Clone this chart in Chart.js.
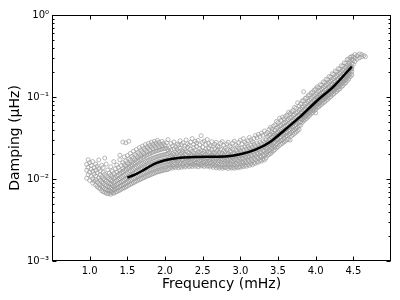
<!DOCTYPE html>
<html lang="en">
<head>
<meta charset="UTF-8">
<title>Damping vs Frequency</title>
<style>
  html, body { margin: 0; padding: 0; background: #fff; }
  #chart { display: block; }
</style>
</head>
<body>
<canvas id="chart" width="400" height="300"></canvas>
<script src="https://cdn.jsdelivr.net/npm/chart.js"></script>
<script>
// axis ticks
const xTicks = [1.0, 1.5, 2.0, 2.5, 3.0, 3.5, 4.0, 4.5];
const yTicks = [0.001, 0.01, 0.1, 1];
const yTickLabels = ['10\u207B\u00B3', '10\u207B\u00B2', '10\u207B\u00B9', '10\u2070'];

// fitted curve
const lineFreq = [1.5, 1.6, 1.7, 1.8, 1.9, 2.0, 2.1, 2.2, 2.4, 2.6, 2.8, 3.0, 3.2, 3.4, 3.6, 3.8, 4.0, 4.25, 4.48];
const lineDamp = [0.0104, 0.0113, 0.0126, 0.0143, 0.0158, 0.0169, 0.0177, 0.0182, 0.0186, 0.0187, 0.0188, 0.0200, 0.0228, 0.0285, 0.0405, 0.058, 0.087, 0.138, 0.235];

// measured modes, each row: [frequency, damping values...]
const lowBand = [
  [0.96, 0.0102, 0.0128, 0.0151],
  [0.98, 0.0113, 0.0139, 0.0172],
  [1.00, 0.0096, 0.0121, 0.0158],
  [1.02, 0.0108, 0.0132, 0.0146],
  [1.04, 0.0089, 0.0101, 0.0124, 0.0163],
  [1.06, 0.0094, 0.0115, 0.0137],
  [1.08, 0.0084, 0.0098, 0.0109, 0.0128, 0.0152],
  [1.10, 0.0081, 0.0092, 0.0119, 0.0143],
  [1.12, 0.0078, 0.0088, 0.0103, 0.0134, 0.0171],
  [1.14, 0.0076, 0.0085, 0.0097, 0.0112, 0.0126],
  [1.16, 0.0072, 0.0081, 0.0093, 0.0107, 0.0147],
  [1.18, 0.0070, 0.0079, 0.0089, 0.0101, 0.0121, 0.0138],
  [1.20, 0.0069, 0.0076, 0.0085, 0.0097, 0.0114, 0.0180],
  [1.22, 0.0067, 0.0074, 0.0083, 0.0094, 0.0109, 0.0152],
  [1.24, 0.0066, 0.0072, 0.0081, 0.0091, 0.0104, 0.0129],
  [1.26, 0.0067, 0.0073, 0.0080, 0.0088, 0.0100, 0.0118],
  [1.28, 0.0065, 0.0071, 0.0078, 0.0087, 0.0098, 0.0112, 0.0141],
  [1.30, 0.0068, 0.0075, 0.0084, 0.0095, 0.0107, 0.0124],
  [1.32, 0.0067, 0.0073, 0.0080, 0.0090, 0.0102, 0.0117, 0.0163],
  [1.34, 0.0069, 0.0076, 0.0083, 0.0093, 0.0105, 0.0133],
  [1.36, 0.0070, 0.0078, 0.0086, 0.0096, 0.0110, 0.0121, 0.0148],
  [1.38, 0.0072, 0.0079, 0.0088, 0.0099, 0.0113, 0.0138],
  [1.40, 0.0073, 0.0081, 0.0090, 0.0101, 0.0117, 0.0127, 0.0172, 0.0195],
  [1.42, 0.0075, 0.0083, 0.0092, 0.0104, 0.0120, 0.0146],
  [1.44, 0.0077, 0.0085, 0.0095, 0.0107, 0.0123, 0.0134, 0.0158, 0.0282],
  [1.46, 0.0078, 0.0087, 0.0098, 0.0111, 0.0128, 0.0150, 0.0186],
  [1.48, 0.0080, 0.0089, 0.0100, 0.0114, 0.0132, 0.0143, 0.0166, 0.0276],
  [1.50, 0.0082, 0.0092, 0.0103, 0.0117, 0.0136, 0.0158, 0.0193],
  [1.52, 0.0084, 0.0094, 0.0106, 0.0121, 0.0140, 0.0151, 0.0177, 0.0289],
  [1.54, 0.0086, 0.0097, 0.0109, 0.0125, 0.0145, 0.0169, 0.0205],
  [1.56, 0.0088, 0.0099, 0.0112, 0.0128, 0.0149, 0.0160, 0.0188],
  [1.58, 0.0090, 0.0102, 0.0115, 0.0132, 0.0154, 0.0180, 0.0218],
  [1.60, 0.0092, 0.0104, 0.0118, 0.0136, 0.0158, 0.0171, 0.0199],
  [1.62, 0.0094, 0.0107, 0.0122, 0.0140, 0.0163, 0.0192, 0.0229],
  [1.64, 0.0096, 0.0109, 0.0125, 0.0144, 0.0168, 0.0182, 0.0211],
  [1.66, 0.0098, 0.0112, 0.0128, 0.0148, 0.0173, 0.0203, 0.0241],
  [1.68, 0.0100, 0.0114, 0.0131, 0.0152, 0.0178, 0.0193, 0.0224],
  [1.70, 0.0102, 0.0117, 0.0134, 0.0156, 0.0183, 0.0214, 0.0252],
  [1.72, 0.0104, 0.0119, 0.0137, 0.0159, 0.0187, 0.0204, 0.0236],
  [1.74, 0.0106, 0.0122, 0.0140, 0.0163, 0.0192, 0.0225, 0.0263],
  [1.76, 0.0108, 0.0124, 0.0143, 0.0166, 0.0196, 0.0214, 0.0247],
  [1.78, 0.0110, 0.0126, 0.0146, 0.0170, 0.0200, 0.0235, 0.0272],
  [1.80, 0.0112, 0.0129, 0.0149, 0.0173, 0.0204, 0.0223, 0.0257],
  [1.82, 0.0114, 0.0131, 0.0151, 0.0176, 0.0208, 0.0244, 0.0281],
  [1.84, 0.0116, 0.0133, 0.0154, 0.0179, 0.0212, 0.0232, 0.0266],
  [1.86, 0.0118, 0.0135, 0.0156, 0.0182, 0.0216, 0.0252, 0.0289],
  [1.88, 0.0120, 0.0137, 0.0158, 0.0185, 0.0219, 0.0240, 0.0274],
  [1.90, 0.0122, 0.0139, 0.0161, 0.0188, 0.0222, 0.0259, 0.0296],
  [1.92, 0.0123, 0.0141, 0.0163, 0.0190, 0.0225, 0.0247, 0.0281],
  [1.94, 0.0125, 0.0143, 0.0165, 0.0193, 0.0228, 0.0265],
  [1.96, 0.0126, 0.0145, 0.0167, 0.0195, 0.0231, 0.0253, 0.0288],
  [1.98, 0.0128, 0.0146, 0.0169, 0.0197, 0.0234, 0.0271],
  [2.00, 0.0129, 0.0148, 0.0171, 0.0199, 0.0236, 0.0258],
  [2.02, 0.0130, 0.0149, 0.0172, 0.0201, 0.0238, 0.0276],
  [2.04, 0.0131, 0.0151, 0.0174, 0.0203, 0.0226, 0.0302]
];

const midBand = [
  [2.06, 0.0134, 0.0149, 0.0163, 0.0181, 0.0212, 0.0239],
  [2.08, 0.0139, 0.0157, 0.0171, 0.0194, 0.0226, 0.0271],
  [2.10, 0.0136, 0.0146, 0.0166, 0.0188, 0.0203, 0.0254],
  [2.12, 0.0141, 0.0159, 0.0178, 0.0199, 0.0233, 0.0283],
  [2.14, 0.0138, 0.0152, 0.0169, 0.0184, 0.0214, 0.0247],
  [2.16, 0.0144, 0.0161, 0.0175, 0.0205, 0.0229, 0.0266],
  [2.18, 0.0137, 0.0149, 0.0168, 0.0191, 0.0218, 0.0259],
  [2.20, 0.0142, 0.0156, 0.0181, 0.0197, 0.0238, 0.0293],
  [2.22, 0.0139, 0.0163, 0.0174, 0.0208, 0.0224, 0.0262],
  [2.24, 0.0145, 0.0154, 0.0170, 0.0189, 0.0215, 0.0276],
  [2.26, 0.0140, 0.0159, 0.0183, 0.0201, 0.0234, 0.0252],
  [2.28, 0.0143, 0.0151, 0.0176, 0.0194, 0.0221, 0.0300],
  [2.30, 0.0147, 0.0165, 0.0179, 0.0212, 0.0243, 0.0268],
  [2.32, 0.0141, 0.0157, 0.0172, 0.0186, 0.0205, 0.0257],
  [2.34, 0.0146, 0.0162, 0.0188, 0.0199, 0.0230, 0.0281],
  [2.36, 0.0142, 0.0153, 0.0178, 0.0196, 0.0218, 0.0311],
  [2.38, 0.0148, 0.0166, 0.0184, 0.0209, 0.0240, 0.0265],
  [2.40, 0.0143, 0.0158, 0.0171, 0.0192, 0.0226, 0.0288],
  [2.42, 0.0147, 0.0161, 0.0186, 0.0203, 0.0249, 0.0274],
  [2.44, 0.0141, 0.0155, 0.0175, 0.0197, 0.0213, 0.0296],
  [2.46, 0.0149, 0.0168, 0.0181, 0.0211, 0.0236, 0.0260],
  [2.48, 0.0144, 0.0152, 0.0173, 0.0190, 0.0222, 0.0338],
  [2.50, 0.0146, 0.0163, 0.0185, 0.0206, 0.0244, 0.0279],
  [2.52, 0.0142, 0.0159, 0.0170, 0.0195, 0.0217, 0.0291],
  [2.54, 0.0148, 0.0164, 0.0183, 0.0200, 0.0231, 0.0263],
  [2.56, 0.0143, 0.0154, 0.0177, 0.0192, 0.0219, 0.0303],
  [2.58, 0.0145, 0.0166, 0.0180, 0.0210, 0.0238, 0.0271],
  [2.60, 0.0140, 0.0157, 0.0172, 0.0187, 0.0214, 0.0255],
  [2.62, 0.0146, 0.0160, 0.0185, 0.0198, 0.0228, 0.0285],
  [2.64, 0.0139, 0.0153, 0.0169, 0.0193, 0.0209, 0.0249],
  [2.66, 0.0144, 0.0163, 0.0178, 0.0205, 0.0234, 0.0266],
  [2.68, 0.0137, 0.0150, 0.0174, 0.0189, 0.0217, 0.0280],
  [2.70, 0.0142, 0.0158, 0.0181, 0.0196, 0.0225, 0.0252],
  [2.72, 0.0136, 0.0152, 0.0167, 0.0186, 0.0211, 0.0244],
  [2.74, 0.0141, 0.0161, 0.0176, 0.0201, 0.0230, 0.0273],
  [2.76, 0.0135, 0.0148, 0.0170, 0.0188, 0.0207, 0.0286],
  [2.78, 0.0140, 0.0156, 0.0179, 0.0194, 0.0222, 0.0257],
  [2.80, 0.0137, 0.0151, 0.0165, 0.0185, 0.0213, 0.0240],
  [2.82, 0.0139, 0.0159, 0.0174, 0.0199, 0.0227, 0.0268],
  [2.84, 0.0134, 0.0149, 0.0168, 0.0190, 0.0205, 0.0281],
  [2.86, 0.0141, 0.0155, 0.0177, 0.0193, 0.0219, 0.0250],
  [2.88, 0.0136, 0.0152, 0.0166, 0.0187, 0.0214, 0.0243],
  [2.90, 0.0138, 0.0160, 0.0181, 0.0202, 0.0231, 0.0275],
  [2.92, 0.0135, 0.0150, 0.0171, 0.0189, 0.0209, 0.0290],
  [2.94, 0.0142, 0.0157, 0.0178, 0.0197, 0.0225, 0.0259],
  [2.96, 0.0137, 0.0153, 0.0169, 0.0192, 0.0217, 0.0248],
  [2.98, 0.0140, 0.0162, 0.0183, 0.0206, 0.0236, 0.0279],
  [3.00, 0.0139, 0.0154, 0.0174, 0.0195, 0.0221, 0.0296],
  [3.02, 0.0145, 0.0160, 0.0180, 0.0211, 0.0240, 0.0266],
  [3.04, 0.0141, 0.0157, 0.0177, 0.0199, 0.0226, 0.0310],
  [3.06, 0.0147, 0.0166, 0.0188, 0.0207, 0.0246, 0.0283],
  [3.08, 0.0143, 0.0159, 0.0182, 0.0204, 0.0232, 0.0270],
  [3.10, 0.0150, 0.0170, 0.0187, 0.0218, 0.0251, 0.0292],
  [3.12, 0.0146, 0.0163, 0.0185, 0.0209, 0.0238, 0.0321],
  [3.14, 0.0153, 0.0174, 0.0196, 0.0224, 0.0258, 0.0299],
  [3.16, 0.0149, 0.0167, 0.0191, 0.0215, 0.0245, 0.0284],
  [3.18, 0.0157, 0.0179, 0.0202, 0.0230, 0.0266, 0.0312],
  [3.20, 0.0155, 0.0172, 0.0194, 0.0222, 0.0253, 0.0339],
  [3.22, 0.0162, 0.0184, 0.0208, 0.0236, 0.0274, 0.0319],
  [3.24, 0.0160, 0.0179, 0.0203, 0.0229, 0.0261, 0.0350],
  [3.26, 0.0168, 0.0190, 0.0213, 0.0245, 0.0282, 0.0329],
  [3.28, 0.0165, 0.0186, 0.0210, 0.0238, 0.0270, 0.0362],
  [3.30, 0.0174, 0.0196, 0.0222, 0.0251, 0.0292, 0.0341],
  [3.32, 0.0171, 0.0193, 0.0218, 0.0247, 0.0281, 0.0385],
  [3.34, 0.0180, 0.0203, 0.0229, 0.0260, 0.0302, 0.0355]
];

const highBand = [
  [3.36, 0.0193, 0.0216, 0.0241, 0.0262, 0.0279, 0.0322, 0.0368],
  [3.38, 0.0199, 0.0224, 0.0255, 0.0271, 0.0301, 0.0340, 0.0401],
  [3.40, 0.0204, 0.0219, 0.0249, 0.0280, 0.0311, 0.0352, 0.0426],
  [3.42, 0.0212, 0.0238, 0.0259, 0.0291, 0.0322, 0.0375, 0.0409],
  [3.44, 0.0221, 0.0250, 0.0273, 0.0302, 0.0338, 0.0362, 0.0441],
  [3.46, 0.0229, 0.0246, 0.0281, 0.0318, 0.0349, 0.0393, 0.0459],
  [3.48, 0.0240, 0.0266, 0.0296, 0.0327, 0.0361, 0.0415, 0.0502],
  [3.50, 0.0247, 0.0279, 0.0303, 0.0341, 0.0372, 0.0428, 0.0485],
  [3.52, 0.0258, 0.0288, 0.0319, 0.0352, 0.0390, 0.0446, 0.0550],
  [3.54, 0.0265, 0.0297, 0.0327, 0.0366, 0.0402, 0.0451, 0.0521],
  [3.56, 0.0274, 0.0298, 0.0339, 0.0373, 0.0414, 0.0470, 0.0568],
  [3.58, 0.0283, 0.0316, 0.0348, 0.0387, 0.0428, 0.0483, 0.0541],
  [3.60, 0.0291, 0.0335, 0.0362, 0.0398, 0.0441, 0.0497, 0.0580],
  [3.62, 0.0302, 0.0338, 0.0371, 0.0412, 0.0455, 0.0516, 0.0603],
  [3.64, 0.0305, 0.0347, 0.0386, 0.0426, 0.0473, 0.0531, 0.0650],
  [3.66, 0.0298, 0.0356, 0.0398, 0.0441, 0.0488, 0.0553, 0.0629],
  [3.68, 0.0335, 0.0372, 0.0411, 0.0459, 0.0507, 0.0569, 0.0662],
  [3.70, 0.0347, 0.0389, 0.0429, 0.0476, 0.0525, 0.0598, 0.0686],
  [3.72, 0.0360, 0.0398, 0.0445, 0.0493, 0.0546, 0.0611, 0.0748],
  [3.74, 0.0372, 0.0415, 0.0458, 0.0511, 0.0563, 0.0640, 0.0727],
  [3.76, 0.0387, 0.0429, 0.0476, 0.0528, 0.0585, 0.0657, 0.0850],
  [3.78, 0.0401, 0.0447, 0.0494, 0.0549, 0.0604, 0.0686, 0.0781],
  [3.80, 0.0452, 0.0498, 0.0541, 0.0572, 0.0633, 0.0712, 0.0823],
  [3.82, 0.0488, 0.0527, 0.0575, 0.0598, 0.0662, 0.0749, 0.0894],
  [3.84, 0.0510, 0.0551, 0.0608, 0.0623, 0.0691, 0.0772, 0.0902, 0.1160],
  [3.86, 0.0531, 0.0572, 0.0625, 0.0649, 0.0717, 0.0815, 0.0961],
  [3.88, 0.0549, 0.0596, 0.0652, 0.0674, 0.0745, 0.0838, 0.0979],
  [3.90, 0.0575, 0.0621, 0.0679, 0.0703, 0.0779, 0.0879, 0.1041],
  [3.92, 0.0597, 0.0648, 0.0705, 0.0733, 0.0808, 0.0907, 0.1062],
  [3.94, 0.0623, 0.0675, 0.0738, 0.0763, 0.0845, 0.0951, 0.1118],
  [3.96, 0.0649, 0.0704, 0.0766, 0.0795, 0.0877, 0.0986, 0.1149],
  [3.98, 0.0676, 0.0731, 0.0799, 0.0829, 0.0916, 0.1031, 0.1212],
  [4.00, 0.0640, 0.0703, 0.0762, 0.0831, 0.0861, 0.0951, 0.1068, 0.1255],
  [4.02, 0.0742, 0.0796, 0.0869, 0.0921, 0.0998, 0.1103, 0.1330],
  [4.04, 0.0758, 0.0829, 0.0902, 0.0940, 0.1040, 0.1172, 0.1295],
  [4.06, 0.0791, 0.0858, 0.0925, 0.0989, 0.1069, 0.1210, 0.1410],
  [4.08, 0.0815, 0.0893, 0.0968, 0.1012, 0.1117, 0.1248, 0.1392],
  [4.10, 0.0847, 0.0921, 0.0995, 0.1055, 0.1151, 0.1302, 0.1527],
  [4.12, 0.0871, 0.0958, 0.1040, 0.1089, 0.1203, 0.1346, 0.1498],
  [4.14, 0.0910, 0.0989, 0.1071, 0.1136, 0.1239, 0.1405, 0.1650],
  [4.16, 0.0936, 0.1032, 0.1116, 0.1170, 0.1295, 0.1448, 0.1621],
  [4.18, 0.0981, 0.1064, 0.1151, 0.1222, 0.1334, 0.1512, 0.1779],
  [4.20, 0.1009, 0.1112, 0.1204, 0.1262, 0.1395, 0.1561, 0.1745],
  [4.22, 0.1058, 0.1148, 0.1242, 0.1318, 0.1441, 0.1631, 0.1920],
  [4.24, 0.1090, 0.1201, 0.1299, 0.1363, 0.1507, 0.1688, 0.1886],
  [4.26, 0.1141, 0.1238, 0.1340, 0.1421, 0.1553, 0.1760, 0.2070],
  [4.28, 0.1171, 0.1290, 0.1396, 0.1464, 0.1619, 0.1812, 0.2025],
  [4.30, 0.1221, 0.1325, 0.1433, 0.1521, 0.1662, 0.1883, 0.2215],
  [4.32, 0.1263, 0.1392, 0.1506, 0.1580, 0.1747, 0.1955, 0.2186],
  [4.34, 0.1327, 0.1440, 0.1557, 0.1652, 0.1806, 0.2046, 0.2407],
  [4.36, 0.1372, 0.1513, 0.1636, 0.1716, 0.1898, 0.2124, 0.2374],
  [4.38, 0.1441, 0.1563, 0.1691, 0.1794, 0.1961, 0.2222, 0.2613],
  [4.40, 0.1493, 0.1646, 0.1780, 0.1867, 0.2065, 0.2311, 0.2584],
  [4.42, 0.1587, 0.1722, 0.1863, 0.1977, 0.2161, 0.2448, 0.2880],
  [4.44, 0.1663, 0.1833, 0.1983, 0.2080, 0.2300, 0.2573, 0.2877],
  [4.46, 0.1775, 0.1925, 0.2083, 0.2210, 0.2415, 0.2737, 0.3050],
  [4.48, 0.1857, 0.2046, 0.2213, 0.2322, 0.2567, 0.2873, 0.3120],
  [4.50, 0.2500, 0.2800, 0.3100],
  [4.52, 0.2700, 0.3000, 0.3300],
  [4.55, 0.2900, 0.3200],
  [4.58, 0.3000, 0.3350],
  [4.61, 0.3100, 0.3300],
  [4.64, 0.3200],
  [4.66, 0.3100]
];

const scatterPts = [];
[lowBand, midBand, highBand].forEach(band => {
  band.forEach(row => {
    for (let i = 1; i < row.length; i++) scatterPts.push({x: row[0], y: row[i]});
  });
});
const linePts = lineFreq.map((f, i) => ({x: f, y: lineDamp[i]}));

// frame with inward ticks, matplotlib style
const frameTicks = {
  id: 'frameTicks',
  afterDraw(chart) {
    const {ctx, chartArea: a, scales: {x, y}} = chart;
    const L = Math.round(a.left) + 0.5, R = Math.round(a.right) - 0.5;
    const T = Math.round(a.top) + 0.5, B = Math.round(a.bottom) - 0.5;
    ctx.save();
    ctx.strokeStyle = '#000';
    ctx.lineWidth = 1;
    ctx.beginPath();
    xTicks.forEach(v => {
      const px = Math.round(x.getPixelForValue(v)) + 0.5;
      ctx.moveTo(px, B); ctx.lineTo(px, B - 4);
      ctx.moveTo(px, T); ctx.lineTo(px, T + 4);
    });
    yTicks.forEach((v, k) => {
      const py = Math.round(y.getPixelForValue(v)) + 0.5;
      ctx.moveTo(L, py); ctx.lineTo(L + 4, py);
      ctx.moveTo(R, py); ctx.lineTo(R - 4, py);
      if (k < yTicks.length - 1) {
        for (let m = 2; m < 10; m++) {
          const pm = Math.round(y.getPixelForValue(v * m)) + 0.5;
          ctx.moveTo(L, pm); ctx.lineTo(L + 2, pm);
          ctx.moveTo(R, pm); ctx.lineTo(R - 2, pm);
        }
      }
    });
    ctx.stroke();
    ctx.strokeRect(L, T, R - L, B - T);
    ctx.restore();
  }
};

new Chart(document.getElementById('chart'), {
  type: 'scatter',
  data: {
    datasets: [
      {
        type: 'line',
        data: linePts,
        borderColor: '#000',
        borderWidth: 2.5,
        pointRadius: 0,
        fill: false,
        cubicInterpolationMode: 'monotone',
        order: 0
      },
      {
        data: scatterPts,
        pointRadius: 2,
        borderWidth: 0.7,
        borderColor: '#9a9a9a',
        backgroundColor: 'rgba(255,255,255,0)',
        order: 1
      }
    ]
  },
  options: {
    responsive: false,
    animation: false,
    events: [],
    layout: { padding: { top: 15, right: 9, left: 0, bottom: 0 } },
    plugins: { legend: { display: false }, tooltip: { enabled: false } },
    scales: {
      x: {
        type: 'linear',
        min: 0.5,
        max: 5.0,
        afterBuildTicks: s => { s.ticks = xTicks.map(v => ({value: v})); },
        afterFit: s => { s.height = 39; },
        grid: { display: false, drawTicks: false },
        border: { display: false },
        ticks: {
          color: '#000',
          padding: 4,
          font: { family: 'DejaVu Sans', size: 10 },
          maxRotation: 0,
          callback: v => v.toFixed(1)
        },
        title: {
          display: true,
          text: 'Frequency (mHz)',
          color: '#000',
          font: { family: 'DejaVu Sans', size: 14 },
          padding: { top: 0, bottom: 7 }
        }
      },
      y: {
        type: 'logarithmic',
        min: 0.001,
        max: 1,
        afterBuildTicks: s => { s.ticks = yTicks.map(v => ({value: v})); },
        afterFit: s => { s.width = 52; },
        grid: { display: false, drawTicks: false },
        border: { display: false },
        ticks: {
          color: '#000',
          padding: 3,
          font: { family: 'DejaVu Sans', size: 10 },
          callback: (v, i) => yTickLabels[i]
        },
        title: {
          display: true,
          text: 'Damping (\u03BCHz)',
          color: '#000',
          font: { family: 'DejaVu Sans', size: 14 },
          padding: { top: 7, bottom: 0 }
        }
      }
    }
  },
  plugins: [frameTicks]
});
</script>
</body>
</html>
